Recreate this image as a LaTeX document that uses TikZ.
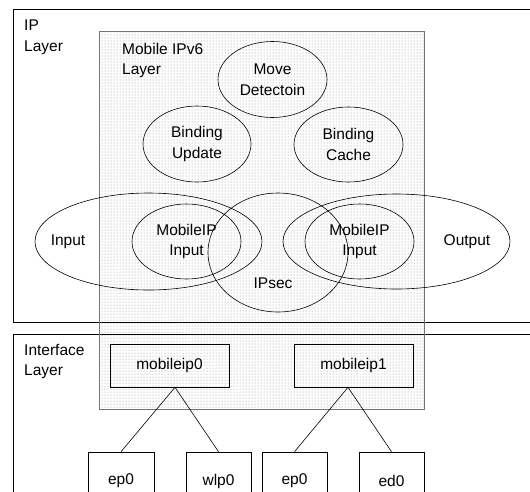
\documentclass[tikz,border=0pt]{standalone}
\usepackage{fontspec}
\setmainfont{Liberation Sans}
\usetikzlibrary{shapes.geometric,patterns}
\tikzset{
  lay/.style={draw=black, line width=0.7pt},
  ell/.style={draw=black, ellipse, line width=0.6pt, inner sep=0pt, align=center},
  box/.style={draw=black, line width=0.6pt, inner sep=0pt},
  conn/.style={draw=black, line width=0.6pt},
  lbl/.style={inner sep=0pt, align=left, anchor=north west},
  txt/.style={inner sep=0pt}
}
\begin{document}
\begin{tikzpicture}[x=1pt,y=-1pt,font=\fontsize{15.5}{20.5}\selectfont]
\useasboundingbox (0,0) rectangle (530,491);
\fill[white] (0,0) rectangle (530,491);
% layers
\draw[lay] (13,9) rectangle (545,322);
\draw[lay] (13,334) rectangle (545,520);
% mobile ipv6 dotted region
\fill[pattern=dots, pattern color=black!45] (99,31) rectangle (424,409);
\draw[black!55, line width=0.6pt] (99,31) rectangle (424,409);
% labels
\node[lbl] (ipl) at (24,20) {IP\\Layer};
\node[lbl] (mipl) at (122,43) {Mobile IPv6\\Layer};
\node[lbl] (ifl) at (24,344) {Interface\\Layer};
% ellipses
\node[ell, minimum width=109pt, minimum height=76pt] (md) at (272.5,79.5) {Move\\Detectoin};
\node[ell, minimum width=108pt, minimum height=76pt] (bu) at (197,144) {Binding\\Update};
\node[ell, minimum width=109pt, minimum height=75pt] (bc) at (348.5,144.5) {Binding\\Cache};
\node[ell, minimum width=227pt, minimum height=97pt] (inE) at (148.5,241.5) {};
\node[txt] (inT) at (68,241.5) {Input};
\node[ell, minimum width=227pt, minimum height=95pt] (outE) at (396.5,241.5) {};
\node[txt] (outT) at (467,241.5) {Output};
\node[ell, minimum width=109pt, minimum height=75pt] (mi0) at (186.5,241.5) {MobileIP\\Input};
\node[ell, minimum width=109pt, minimum height=75pt] (mi1) at (359.5,241.5) {MobileIP\\Input};
\node[ell, minimum width=140pt, minimum height=119pt] (ips) at (278,252.5) {};
\node[txt] (ipsT) at (273,283.5) {IPsec};
% interface boxes
\node[box, minimum width=119pt, minimum height=43pt] (mip0) at (169.5,365.5) {\raisebox{-6pt}{mobileip0}};
\node[box, minimum width=119pt, minimum height=43pt] (mip1) at (353.5,365.5) {\raisebox{-6pt}{mobileip1}};
\node[box, minimum width=66pt, minimum height=58pt] (ep0) at (121,481) {ep0};
\node[box, minimum width=65pt, minimum height=58pt] (wlp0) at (218.5,481) {wlp0};
\node[box, minimum width=65pt, minimum height=58pt] (ep1) at (294.5,481) {ep0};
\node[box, minimum width=65pt, minimum height=58pt] (ed0) at (391.5,481) {ed0};
% connectors
\draw[conn] (ep0.north) -- ([xshift=5.5pt]mip0.south) -- (wlp0.north);
\draw[conn] (ep1.north) -- ([xshift=-5.5pt]mip1.south) -- (ed0.north);
\end{tikzpicture}
\end{document}
